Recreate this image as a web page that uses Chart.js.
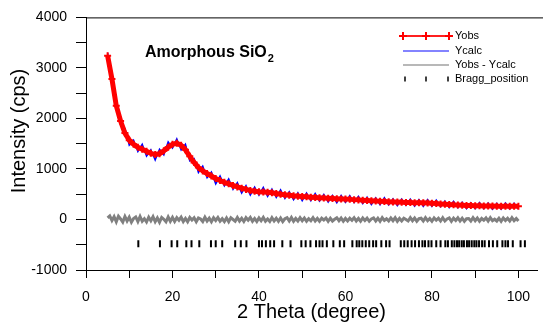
<!DOCTYPE html>
<html>
<head>
<meta charset="utf-8">
<script src="https://cdn.jsdelivr.net/npm/chart.js@4/dist/chart.umd.min.js"></script>
<style>
  html, body { margin: 0; padding: 0; background: #fff; }
  canvas { display: block; }
</style>
</head>
<body>
<canvas id="xrd" width="543" height="331"></canvas>
<script>
// 2-theta grids (start, step) for the measured curves
const thetaStart = 5;
const thetaStep = 1;
const diffStep = 0.5;

// calculated profile, one value per degree from 5 to 100
const ycalc = [
  3240, 2780, 2250, 1950, 1710, 1570, 1490, 1430, 1390, 1350,
  1310, 1285, 1300, 1360, 1430, 1490, 1510, 1470, 1380, 1250,
  1130, 1030, 960, 910, 860, 810, 770, 735, 705, 675,
  645, 620, 595, 575, 560, 550, 545, 540, 530, 515,
  500, 490, 480, 470, 462, 455, 448, 442, 436, 430,
  425, 420, 415, 411, 407, 403, 398, 393, 388, 383,
  378, 372, 366, 361, 356, 352, 348, 344, 340, 337,
  334, 331, 332, 330, 326, 320, 314, 308, 302, 296,
  290, 286, 282, 278, 275, 272, 270, 268, 266, 265,
  264, 263, 262, 262, 262, 262
];

// observed counts (noisy), same grid
const yobs = [
  3300, 2690, 2360, 1880, 1805, 1470, 1570, 1345, 1490, 1255,
  1380, 1175, 1390, 1280, 1535, 1415, 1595, 1375, 1490, 1160,
  1205, 930, 1055, 825, 940, 705, 860, 665, 805, 595,
  730, 525, 670, 485, 640, 480, 635, 455, 600, 435,
  585, 415, 550, 390, 527, 370, 523, 372, 516, 365,
  495, 345, 475, 331, 477, 338, 473, 333, 458, 313,
  443, 297, 426, 291, 431, 287, 408, 274, 405, 277,
  404, 266, 392, 260, 391, 260, 384, 253, 367, 236,
  360, 231, 342, 213, 330, 212, 335, 213, 326, 205,
  319, 203, 327, 207, 322, 207
];

// Yobs - Ycalc, every 0.5 degree from 5 to 100
const ydiff = [
  30, 70, -20, 55, -45, 65, 10, -50, 60, -30,
  45, -55, 20, 50, -40, 60, -35, 15, -50, 45,
  -25, 55, -45, 30, -55, 40, 5, -45, 50, -35,
  40,
  -40, 35, -15, 45, -40, 20, -45, 40, -10, 35,
  -45, 30, 10, -40, 45, -30, 25, -45, 35, -20,
  40, -35, 15, -40, 30, -45, 35, 0, -35, 40,
  -30, 25, -40, 35, -15, 40, -35, 20, -40, 30,
  -25, 40, -35, 10, -40, 35, -30, 25, -35, 30,
  -40, 15, 35, -30, 40, -35, 20, -30, 35, -25,
  30, -35, 15, -25, 35, -30, 20, -35, 25, -10,
  30, -35, 25, -30, 5, 35, -25, 30, -35, 20,
  -30, 25, -15, 35, -30, 20, -35, 30, -20, 25,
  -35, 10, 30, -30, 25, -35, 35, -20, 15, -30,
  30, -25, 35, -35, 20, -30, 25, 0, -30, 35,
  -25, 30, -35, 15, 25, -30, 35, -25, 20, -35,
  30, -15, 25, -30, 35, -30, 10, 30, -35, 25,
  -20, 35, -30, 25, -35, 15, 20, -30, 35, -25,
  30, -35, 20, -15, 30, -30, 35, -25, 5, -30,
  25, -35, 30, -20, 25, -30, 35, -25, 20, -30
];

// Bragg reflection positions (2 theta) and the level they are drawn at
const braggPos = [
  12.1, 17.1, 19.8, 21.1, 23.2, 24.4, 26.2, 28.9, 30.0, 31.5,
  34.5, 35.8, 37.1, 40.0, 40.7, 41.6, 42.6, 43.5, 45.4, 47.3,
  49.8, 50.8, 51.9, 53.2, 54.0, 54.7, 55.7, 57.2, 58.7, 59.7,
  61.6, 62.6, 63.2, 63.9, 64.7, 65.5, 66.4, 67.1, 68.3, 69.4,
  70.2, 72.8, 73.6, 74.4, 75.3, 76.1, 77.0, 77.8, 78.4, 79.2,
  79.9, 81.0, 82.0, 83.1, 83.7, 84.6, 85.2, 85.8, 86.3, 86.9,
  87.4, 88.1, 88.6, 89.2, 89.8, 90.3, 90.9, 91.6, 92.2, 93.2,
  94.1, 95.1, 96.3, 97.0, 97.6, 98.7, 100.5, 101.5
];
const braggLevel = -480;

const xTicks = [0, 10, 20, 30, 40, 50, 60, 70, 80, 90, 100];
const legendLabels = ['Yobs', 'Ycalc', 'Yobs - Ycalc', 'Bragg_position'];

const FONT = '"Liberation Sans", Arial, sans-serif';

const toPts = (arr, step) => arr.map((v, i) => ({x: thetaStart + i * step, y: v}));

// frame top line, titles and the hand drawn legend
const decorations = {
    id: 'decorations',
    afterDraw(chart) {
        const ctx = chart.ctx;
        const a = chart.chartArea;
        ctx.save();
        ctx.strokeStyle = '#000';
        ctx.lineWidth = 1;
        ctx.beginPath();
        ctx.moveTo(a.left, a.top + 0.5);
        ctx.lineTo(chart.width, a.top + 0.5);
        ctx.stroke();

        // y axis title, sits a bit above the middle like the original
        ctx.save();
        ctx.translate(19, 131);
        ctx.rotate(-Math.PI / 2);
        ctx.font = '20px ' + FONT;
        ctx.fillStyle = '#000';
        ctx.textAlign = 'center';
        ctx.textBaseline = 'middle';
        ctx.fillText('Intensity (cps)', 0, 0);
        ctx.restore();

        // title
        ctx.fillStyle = '#000';
        ctx.textBaseline = 'alphabetic';
        ctx.font = 'bold 16px ' + FONT;
        ctx.fillText('Amorphous SiO', 145, 57);
        const w = ctx.measureText('Amorphous SiO').width;
        ctx.font = 'bold 11px ' + FONT;
        ctx.fillText('2', 145 + w + 1, 62);

        // legend
        const lx0 = 403, lx1 = 449, tx = 455;
        const rows = [36, 51, 65, 79];
        ctx.font = '11px ' + FONT;
        ctx.textBaseline = 'middle';

        ctx.strokeStyle = '#ff2020';
        ctx.lineWidth = 2;
        ctx.beginPath(); ctx.moveTo(lx0, rows[0]); ctx.lineTo(lx1, rows[0]); ctx.stroke();
        ctx.strokeStyle = '#ff0000';
        [lx0, (lx0 + lx1) / 2, lx1].forEach(px => {
            ctx.beginPath();
            ctx.moveTo(px - 4, rows[0]); ctx.lineTo(px + 4, rows[0]);
            ctx.moveTo(px, rows[0] - 4); ctx.lineTo(px, rows[0] + 4);
            ctx.stroke();
        });

        ctx.strokeStyle = '#5a5aff';
        ctx.lineWidth = 1.5;
        ctx.beginPath(); ctx.moveTo(lx0, rows[1]); ctx.lineTo(lx1, rows[1]); ctx.stroke();

        ctx.strokeStyle = '#a0a0a0';
        ctx.beginPath(); ctx.moveTo(lx0, rows[2]); ctx.lineTo(lx1, rows[2]); ctx.stroke();

        ctx.strokeStyle = '#000';
        ctx.lineWidth = 1.5;
        [lx0 + 2, (lx0 + lx1) / 2, lx1 - 1].forEach(px => {
            ctx.beginPath();
            ctx.moveTo(px, rows[3] - 2.5); ctx.lineTo(px, rows[3] + 2.5);
            ctx.stroke();
        });

        ctx.fillStyle = '#000';
        legendLabels.forEach((t, i) => ctx.fillText(t, tx, rows[i]));
        ctx.restore();
    }
};

new Chart(document.getElementById('xrd').getContext('2d'), {
    type: 'line',
    data: {
        datasets: [
            {
                label: 'Yobs',
                data: toPts(ycalc, thetaStep),
                borderColor: '#ff0000',
                borderWidth: 5,
                pointStyle: 'cross',
                pointRadius: 3.5,
                pointBorderWidth: 2,
                pointBorderColor: '#ff0000',
                pointBackgroundColor: '#ff0000',
                order: 1
            },
            {
                label: 'Ycalc',
                data: toPts(yobs, thetaStep),
                borderColor: '#0000ff',
                borderWidth: 1.5,
                pointRadius: 0,
                order: 2
            },
            {
                label: 'Yobs - Ycalc',
                data: toPts(ydiff, diffStep),
                borderColor: '#808080',
                borderWidth: 3,
                pointRadius: 0,
                order: 3
            },
            {
                label: 'Bragg_position',
                data: braggPos.map(p => ({x: p, y: braggLevel})),
                showLine: false,
                pointStyle: 'line',
                rotation: 90,
                pointRadius: 3.5,
                pointBorderWidth: 2,
                pointBorderColor: '#000',
                order: 4
            }
        ]
    },
    options: {
        responsive: false,
        animation: false,
        devicePixelRatio: 1,
        layout: {padding: {top: 9, right: 0, left: 0, bottom: 0}},
        plugins: {
            legend: {display: false},
            tooltip: {enabled: false}
        },
        scales: {
            x: {
                type: 'linear',
                min: 0,
                max: 104.3,
                afterBuildTicks: s => { s.ticks = xTicks.map(v => ({value: v})); },
                afterFit: s => { s.height = 61; },
                border: {color: '#000', width: 1},
                grid: {
                    drawOnChartArea: false,
                    drawTicks: true,
                    tickLength: 8,
                    tickColor: '#000',
                    tickWidth: 1
                },
                ticks: {
                    color: '#000',
                    font: {family: FONT, size: 14},
                    padding: 11,
                    maxRotation: 0,
                    autoSkip: false,
                    callback: v => (v % 20 === 0 ? v : '')
                },
                title: {
                    display: true,
                    text: '2 Theta (degree)',
                    color: '#000',
                    font: {family: FONT, size: 20},
                    padding: {top: 0, bottom: 7}
                }
            },
            y: {
                min: -1000,
                max: 4000,
                afterFit: s => { s.width = 86; },
                border: {color: '#000', width: 1},
                grid: {
                    drawOnChartArea: false,
                    drawTicks: true,
                    tickLength: 10,
                    tickColor: '#000',
                    tickWidth: 1
                },
                ticks: {
                    stepSize: 500,
                    color: '#000',
                    font: {family: FONT, size: 14},
                    padding: 9,
                    autoSkip: false,
                    callback: v => (v % 1000 === 0 ? v : '')
                }
            }
        }
    },
    plugins: [decorations]
});
</script>
</body>
</html>
